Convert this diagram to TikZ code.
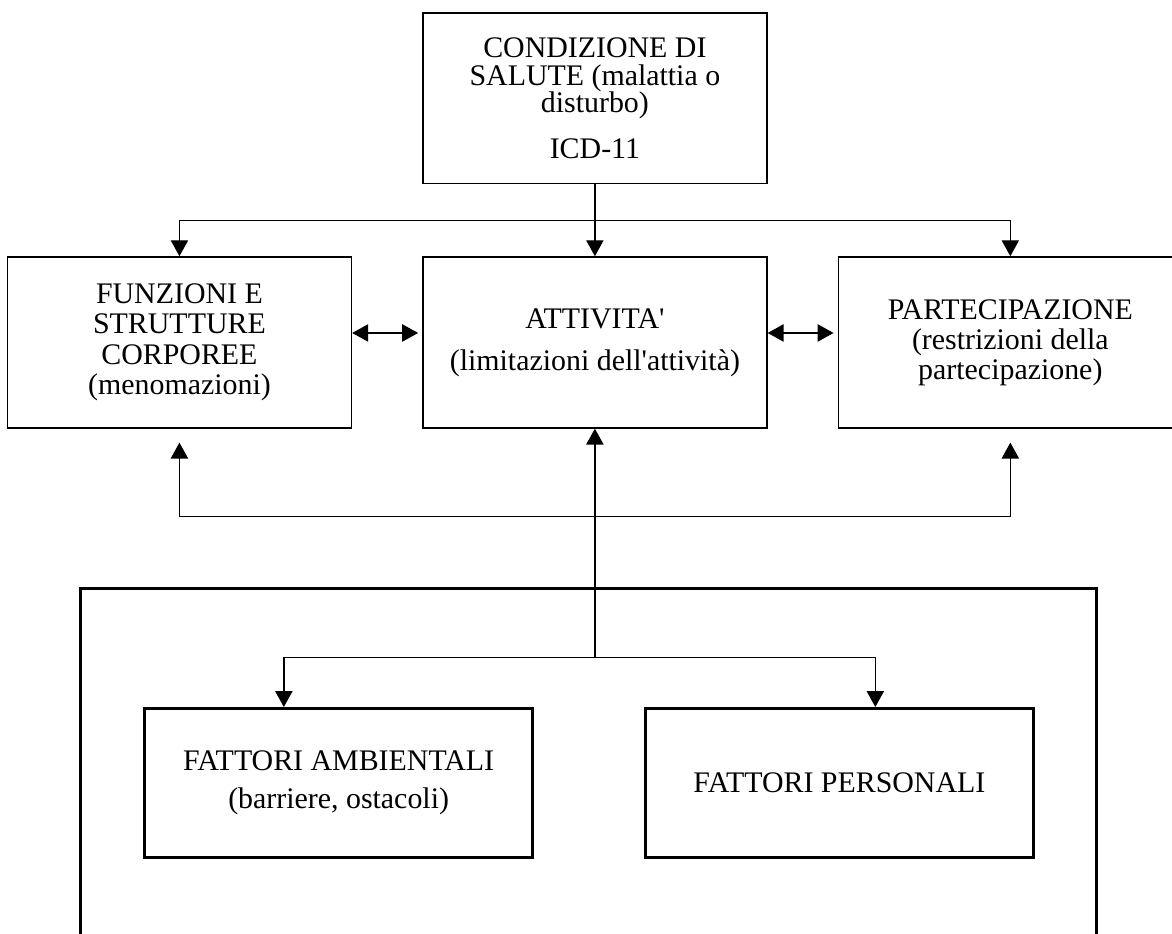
\documentclass[tikz,border=0pt]{standalone}
\usepackage{fontspec}
\setmainfont{Liberation Serif}[Ligatures=TeXOff]
\usepackage{tikz}
\usetikzlibrary{arrows.meta,positioning,calc}

\begin{document}
\begin{tikzpicture}[
  node distance = 1.9cm and 1.85cm,
  > = {Triangle[length=12pt,width=13pt]},
  font = \fontsize{22.5}{21}\selectfont,
  box/.style = {rectangle, draw, line width=1.2pt, align=center,
                minimum width=9.1cm, minimum height=4.52cm},
  factor/.style = {rectangle, draw, line width=2.2pt, align=center,
                   minimum width=10.25cm, minimum height=3.95cm},
  link/.style = {line width=1pt}
]
\useasboundingbox (0,0) rectangle (31.01,-24.71);
\clip (0,0) rectangle (31.01,-24.71);

\node[box] (att) at (15.74,-9.06) {ATTIVITA'\\[10.5pt](limitazioni dell'attività)};
\node[box, above=of att] (sal) {CONDIZIONE DI\\SALUTE (malattia o\\disturbo)\\[13.5pt]ICD-11};
\node[box, left=of att] (fun) {FUNZIONI E\\[2pt]STRUTTURE\\[2pt]CORPOREE\\[2pt](menomazioni)};
\node[box, right=of att] (par) {PARTECIPAZIONE\\[1.5pt](restrizioni della\\[1.5pt]partecipazione)};

% fattori contestuali
\draw[line width=2.2pt] (2.14,-26) |- (29.0,-15.56) -- (29.0,-26);
\node[factor] (amb) at (8.96,-20.72) {FATTORI AMBIENTALI\\[7.5pt](barriere, ostacoli)};
\node[factor] (pers) at (22.21,-20.72) {FATTORI PERSONALI};

\coordinate (hub) at ($(sal.south)!0.5!(att.north)$);
\coordinate (feed) at ([yshift=-2.33cm]att.south);
\coordinate (split) at ([yshift=-6.06cm]att.south);

\draw[link,->] (sal) -- (att);
\draw[link,->] (hub) -| (fun);
\draw[link,->] (hub) -| (par);
\draw[link,<->] ([yshift=0.25cm]fun.east) -- ([yshift=0.25cm,xshift=-3pt]att.west);
\draw[link,<->] ([yshift=0.25cm]att.east) -- ([yshift=0.25cm,xshift=-3pt]par.west);
\draw[link,->] (feed) -| ([yshift=-0.37cm]fun.south);
\draw[link,->] (feed) -| ([yshift=-0.37cm]par.south);
\draw[link,->] (split) -- (att);
\draw[link,->] (split) -| ([xshift=-1.45cm]amb.north);
\draw[link,->] (split) -| ([xshift=0.95cm]pers.north);
\end{tikzpicture}
\end{document}
